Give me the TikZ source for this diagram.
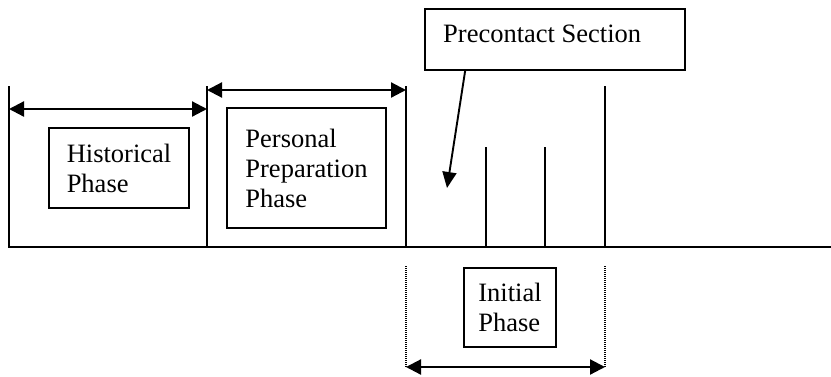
\documentclass[tikz,border=0pt]{standalone}
\usepackage{fontspec}
\setmainfont{Liberation Serif}
\usetikzlibrary{arrows.meta}
\tikzset{
  rule/.style={line width=2.3pt, line cap=rect},
  panel/.style={draw, line width=1.7pt, inner sep=0pt},
  label/.style={font=\fontsize{26.5}{30}\selectfont, align=left, inner sep=0pt},
  span/.style={line width=2.2pt, {Triangle[length=15pt,width=15pt]}-{Triangle[length=15pt,width=15pt]}},
  pointer/.style={line width=1.9pt, -{Triangle[length=16pt,width=14pt]}},
  guide/.style={line width=1.3pt, dash pattern=on 1.2pt off 0.8pt}
}
\begin{document}
\begin{tikzpicture}[x=1pt, y=-1pt]
\useasboundingbox (0,0) rectangle (831,376);

% time axis and phase boundaries
\coordinate (axisL) at (9,247);
\coordinate (axisR) at (831,247);
\coordinate (t0) at (9,87);
\coordinate (t1) at (207,87);
\coordinate (t2) at (406,87);
\coordinate (t3) at (605,87);
\coordinate (s1) at (486,148);
\coordinate (s2) at (545,148);
\draw[rule] (axisL) -- (axisR);
\foreach \c in {t0,t1,t2,t3,s1,s2}
  \draw[rule] (\c) -- (\c |- axisL);

% span arrows over the phases
\coordinate (hA) at (9,109);
\coordinate (hB) at (207,109);
\coordinate (pA) at (207,90);
\coordinate (pB) at (406,90);
\draw[span] (hA) -- (hB);
\draw[span] (pA) -- (pB);

% phase boxes
\node[panel, minimum width=140pt, minimum height=80pt] (hist) at (119,168) {};
\node[label] (histT) at (hist.center) {Historical\\Phase};
\node[panel, minimum width=159pt, minimum height=120pt] (pers) at (306.5,168) {};
\node[label] (persT) at (pers.center) {Personal\\Preparation\\Phase};

% precontact section callout
\node[panel, minimum width=260pt, minimum height=61pt] (pre) at (555,39.5) {};
\node[label, anchor=base west] (preT) at (443,42) {Precontact Section};
\coordinate (preTip) at (447,188);
\draw[pointer] ([xshift=41pt]pre.south west) -- (preTip);

% initial phase below the axis
\coordinate (gA) at (406,266);
\coordinate (gB) at (605,266);
\coordinate (iA) at (406,367);
\coordinate (iB) at (605,367);
\draw[guide] (gA) -- (iA);
\draw[guide] (gB) -- (iB);
\draw[span] (iA) -- (iB);
\node[panel, minimum width=92pt, minimum height=79pt] (init) at (510,307.5) {};
\node[label] (initT) at (init.center) {Initial\\Phase};
\end{tikzpicture}
\end{document}
